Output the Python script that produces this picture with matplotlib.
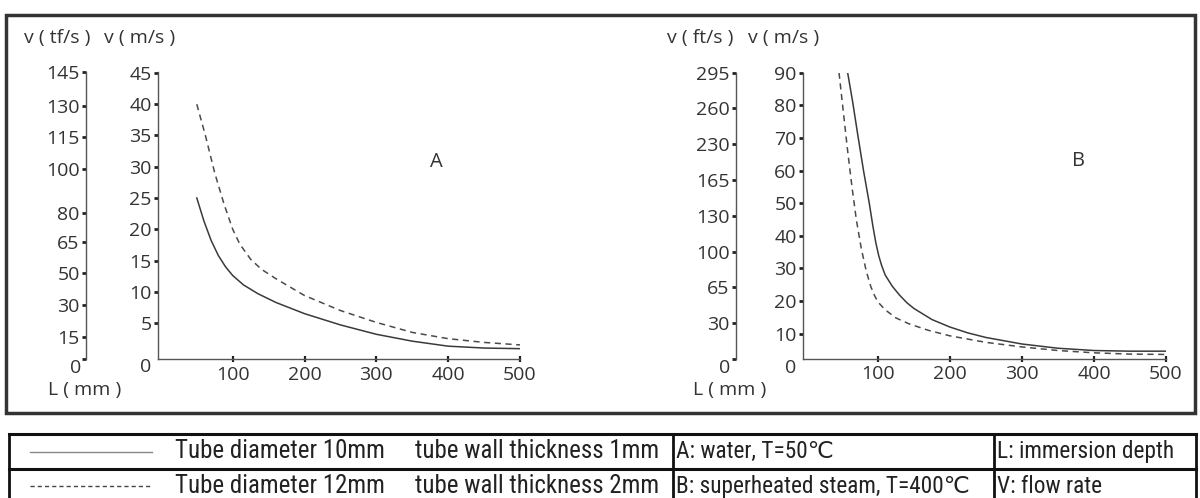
import matplotlib
matplotlib.use("Agg")
import matplotlib.pyplot as plt
from matplotlib import font_manager
from matplotlib.lines import Line2D
from matplotlib.patches import Rectangle

# ---------------- data ----------------
# Panel A (water, T=50 C): immersion depth L (mm) vs flow rate v (m/s)
a_solid_L = [50, 60, 70, 80, 90, 100, 115, 135, 160, 200, 250, 300, 350, 400, 450, 500]
a_solid_v = [25, 21.3, 18.2, 15.8, 14, 12.6, 11.1, 9.7, 8.3, 6.5, 4.7, 3.2, 2.1, 1.3, 1.0, 0.9]
a_dash_L = [50, 62, 75, 88, 100, 110, 125, 140, 160, 200, 250, 300, 350, 400, 450, 500]
a_dash_v = [40, 35, 29, 24, 20, 17.6, 15.2, 13.6, 12.1, 9.4, 7.0, 5.1, 3.5, 2.5, 1.9, 1.5]

# Panel B (superheated steam, T=400 C)
b_solid_L = [58, 65, 72, 80, 88, 93, 97, 101, 105, 110, 120, 130, 140, 150, 175, 200, 225, 250, 300, 350, 400, 450, 500]
b_solid_v = [90, 81, 71, 60, 50, 43, 38, 34, 31, 28, 24.5, 21.8, 19.5, 17.7, 14.3, 12, 10.2, 8.8, 6.8, 5.5, 4.8, 4.6, 4.6]
b_dash_L = [46, 52, 58, 64, 70, 77, 84, 90, 95, 100, 110, 125, 143, 170, 200, 250, 300, 350, 400, 450, 500]
b_dash_v = [90, 78, 66, 55, 45, 36, 29, 24.5, 21.8, 19.7, 17.3, 14.8, 13, 11, 9.3, 7.3, 5.9, 4.8, 4.1, 3.7, 3.6]

x_ticks = [100, 200, 300, 400, 500]
a_ms_ticks = [5, 10, 15, 20, 25, 30, 35, 40, 45]
b_ms_ticks = [10, 20, 30, 40, 50, 60, 70, 80, 90]
a_tf_labels = ["145", "130", "115", "100", "80", "65", "50", "30", "15", "0"]
b_ft_labels = ["295", "260", "230", "165", "130", "100", "65", "30", "0"]

legend_rows = [
    ["Tube diameter 10mm", "tube wall thickness 1mm", "A: water, T=50\u2103", "L: immersion depth"],
    ["Tube diameter 12mm", "tube wall thickness 2mm", "B: superheated steam, T=400\u2103", "V: flow rate"],
]

# ---------------- fonts ----------------
def have(name):
    try:
        font_manager.findfont(name, fallback_to_default=False)
        return True
    except Exception:
        return False

chart_font = [f for f in ["Open Sans", "Noto Sans", "DejaVu Sans"] if have(f)]
narrow_font = [f for f in ["Liberation Sans Narrow", "Roboto Condensed", "Liberation Sans", "DejaVu Sans"] if have(f)]
if "DejaVu Sans" not in narrow_font:
    narrow_font.append("DejaVu Sans")

TXT = "#333333"
AXC = "#555555"
W, H = 1200, 498
fig = plt.figure(figsize=(W / 100, H / 100), dpi=100)


def px_axes(left, right, top, bottom):
    return fig.add_axes([left / W, 1 - bottom / H, (right - left) / W, (bottom - top) / H])


def ftext(x, y, s, **kw):
    kw.setdefault("color", TXT)
    kw.setdefault("family", chart_font)
    return fig.text(x / W, 1 - y / H, s, **kw)


FS = 14


def style_main(ax, xlim, ylim, yticks):
    ax.set_xlim(*xlim)
    ax.set_ylim(*ylim)
    for s in ["top", "right"]:
        ax.spines[s].set_visible(False)
    for s in ["left", "bottom"]:
        ax.spines[s].set_color(AXC)
        ax.spines[s].set_linewidth(1.0)
    ax.set_xticks(x_ticks)
    ax.set_xticklabels([str(v) for v in x_ticks], family=chart_font, fontsize=FS, color=TXT)
    ax.set_yticks(yticks)
    ax.set_yticklabels([str(v) for v in yticks], family=chart_font, fontsize=FS, color=TXT)
    ax.tick_params(axis="y", direction="out", length=3, width=2, pad=1.5, color="#222222")
    ax.tick_params(axis="x", direction="inout", length=5, width=1.6, pad=2, color="#222222")
    ax.patch.set_alpha(0)


def style_side(ax, ylim, pos, labels):
    ax.set_ylim(*ylim)
    ax.set_xticks([])
    for s in ["top", "right", "bottom"]:
        ax.spines[s].set_visible(False)
    ax.spines["left"].set_color(AXC)
    ax.spines["left"].set_linewidth(1.0)
    ax.set_yticks(pos)
    ax.set_yticklabels([l if l != "0" else "" for l in labels], family=chart_font, fontsize=FS, color=TXT)
    ax.tick_params(axis="y", direction="out", length=3, width=2, pad=1.5, color="#222222")
    ax.patch.set_alpha(0)


# ---------------- panel A ----------------
a_ylim = (-0.8, 45.2)
axA = px_axes(158, 520, 71.7, 359.3)
style_main(axA, (-4, 500), a_ylim, a_ms_ticks)
axA.plot(a_solid_L, a_solid_v, color="#3a3a3a", lw=1.1)
axA.plot(a_dash_L, a_dash_v, color="#4a4a4a", lw=1.1, dashes=(4, 3))

a_tf_pos = [45.2, 39.7, 34.7, 29.7, 22.6, 17.9, 13.0, 7.9, 2.8, -0.8]
axAl = px_axes(86, 87, 71.7, 359.3)
style_side(axAl, a_ylim, a_tf_pos, a_tf_labels)

# ---------------- panel B ----------------
b_ylim = (2.2, 90)
axB = px_axes(803, 1166, 72.7, 359)
style_main(axB, (-4, 500), b_ylim, b_ms_ticks)
axB.plot(b_solid_L, b_solid_v, color="#3a3a3a", lw=1.1)
axB.plot(b_dash_L, b_dash_v, color="#4a4a4a", lw=1.1, dashes=(4, 3))

n = len(b_ft_labels)
b_ft_pos = [b_ylim[1] - i * (b_ylim[1] - b_ylim[0]) / (n - 1) for i in range(n)]
axBl = px_axes(736, 737, 72.7, 359)
style_side(axBl, b_ylim, b_ft_pos, b_ft_labels)

# origin "0" labels
for (x, y) in [(76, 368), (146, 367), (725, 368), (791, 368)]:
    ftext(x, y, "0", ha="center", va="center", fontsize=FS)

# axis titles
ftext(24, 38, "v ( tf/s )", ha="left", va="center", fontsize=FS)
ftext(104, 38, "v ( m/s )", ha="left", va="center", fontsize=FS)
ftext(667, 38, "v ( ft/s )", ha="left", va="center", fontsize=FS)
ftext(748, 38, "v ( m/s )", ha="left", va="center", fontsize=FS)
ftext(48, 390, "L ( mm )", ha="left", va="center", fontsize=FS)
ftext(693, 390, "L ( mm )", ha="left", va="center", fontsize=FS)
ftext(436, 162, "A", ha="center", va="center", fontsize=14.5)
ftext(1078, 161, "B", ha="center", va="center", fontsize=14.5)

# outer frame around both panels
fig.add_artist(Rectangle((5.7 / W, 1 - 413 / H), (1195 - 5.7) / W, (413 - 15) / H,
                         transform=fig.transFigure, fill=False, ec="#333333", lw=2.5))

# ---------------- legend table ----------------
t_top, t_mid, t_bot = 434, 469, 504
t_left, c1, c2, t_right = 9, 673, 994, 1196


def hline(y, x0, x1, **kw):
    fig.add_artist(Line2D([x0 / W, x1 / W], [1 - y / H, 1 - y / H], transform=fig.transFigure, **kw))


def vline(x, y0, y1, **kw):
    fig.add_artist(Line2D([x / W, x / W], [1 - y0 / H, 1 - y1 / H], transform=fig.transFigure, **kw))


for y in [t_top, t_mid, t_bot]:
    hline(y, t_left, t_right, color="#111111", lw=2.2)
for x in [t_left, c1, c2, t_right]:
    vline(x, t_top, t_bot, color="#111111", lw=2.0)

hline(451.5, 30, 152, color="#888888", lw=1.0)
hline(486, 30, 152, color="#444444", lw=1.0, dashes=(3, 2.2))

col_x = [175, 415, 676, 997]
row_y = [451.5, 486]
fig.canvas.draw()
renderer = fig.canvas.get_renderer()
target_w = {"Tube diameter 10mm": 210, "tube wall thickness 1mm": 245,
            "A: water, T=50\u2103": 158, "L: immersion depth": 178}
sizes = []
for j, s in enumerate(legend_rows[0]):
    t = ftext(-500, -500, s, fontsize=14, family=narrow_font)
    w = t.get_window_extent(renderer).width
    t.remove()
    sizes.append(14 * target_w[s] / w)
for i, row in enumerate(legend_rows):
    for j, s in enumerate(row):
        ftext(col_x[j], row_y[i], s, ha="left", va="center", fontsize=sizes[j],
              family=narrow_font, color="#222222")

fig.savefig("out.png", dpi=100)
